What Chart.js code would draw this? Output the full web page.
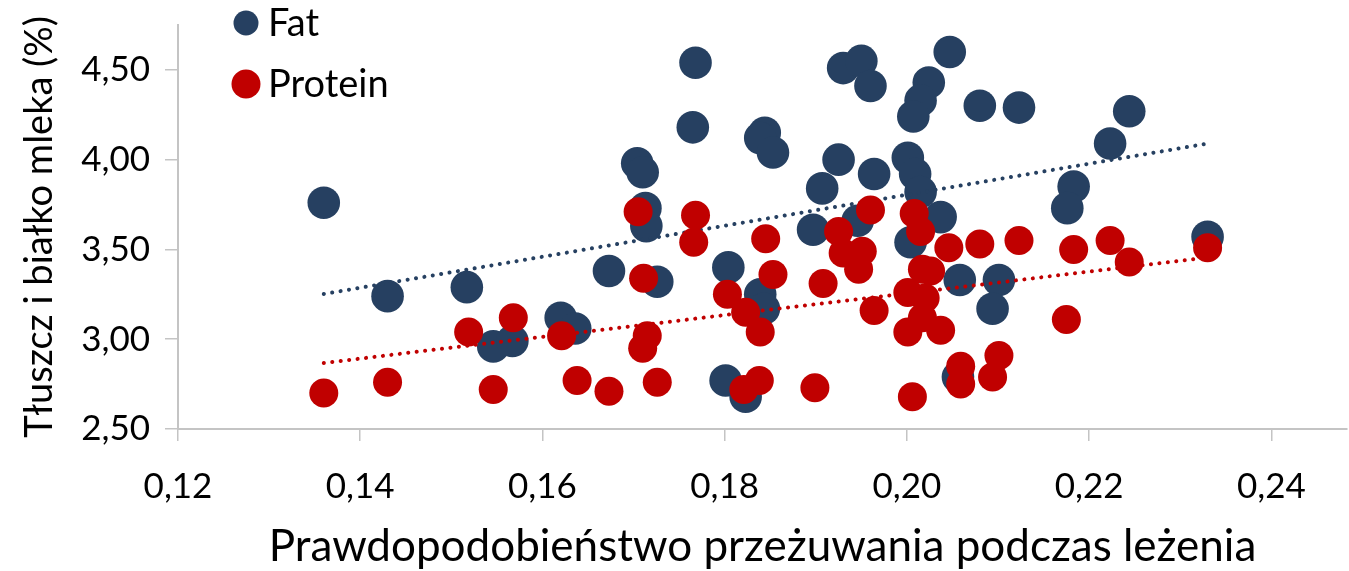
<!DOCTYPE html>
<html>
<head>
<meta charset="utf-8">
<script src="https://cdn.jsdelivr.net/npm/chart.js@4"></script>
<style>
  body { margin: 0; background: #fff; }
  #wrap { width: 1349px; height: 571px; }
</style>
</head>
<body>
<div id="wrap"><canvas id="chart" width="1349" height="571"></canvas></div>
<script>
/* ==========================
   DATA
========================== */
const fatX = [0.1360,0.1430,0.1517,0.1546,0.1567,0.1620,0.1636,0.1673,0.1704,0.1710,0.1713,0.1714,0.1726,0.1765,0.1768,0.1804,0.1801,0.1823,0.1839,0.1843,0.1844,0.1839,0.1853,0.1907,0.1925,0.1930,0.1950,0.1960,0.1897,0.1946,0.1964,0.2001,0.2009,0.2015,0.2024,0.2015,0.2007,0.2047,0.2080,0.2123,0.2244,0.2223,0.2183,0.2176,0.2330,0.2037,0.2004,0.2058,0.2101,0.2094,0.2056];
const fatY = [3.76,3.24,3.29,2.96,2.99,3.12,3.06,3.38,3.98,3.93,3.73,3.63,3.32,4.18,4.54,3.40,2.77,2.68,3.25,3.17,4.15,4.12,4.04,3.84,4.00,4.51,4.55,4.41,3.61,3.66,3.92,4.01,3.92,3.82,4.43,4.33,4.24,4.60,4.30,4.29,4.27,4.09,3.85,3.73,3.57,3.68,3.54,3.33,3.33,3.17,2.79];

const proteinX = [0.1360,0.1430,0.1519,0.1546,0.1568,0.1621,0.1638,0.1673,0.1705,0.1711,0.1715,0.1710,0.1726,0.1768,0.1766,0.1803,0.1823,0.1839,0.1821,0.1838,0.1845,0.1853,0.1899,0.1908,0.1925,0.1960,0.1930,0.1951,0.1947,0.1964,0.2008,0.2015,0.2046,0.2017,0.2026,0.2001,0.2020,0.2017,0.2001,0.2037,0.2006,0.2059,0.2059,0.2080,0.2123,0.2183,0.2223,0.2244,0.2330,0.2175,0.2101,0.2094];
const proteinY = [2.70,2.76,3.04,2.72,3.12,3.02,2.77,2.71,3.71,3.34,3.02,2.95,2.76,3.69,3.54,3.25,3.15,3.04,2.72,2.77,3.56,3.36,2.73,3.31,3.60,3.72,3.48,3.49,3.39,3.16,3.70,3.60,3.51,3.39,3.38,3.26,3.23,3.12,3.04,3.05,2.68,2.85,2.75,3.53,3.55,3.50,3.55,3.43,3.51,3.11,2.91,2.79];

// trend lines (start, end)
const fatTrendX = [0.136, 0.2328];
const fatTrendY = [3.252, 4.088];
const proteinTrendX = [0.136, 0.233];
const proteinTrendY = [2.868, 3.455];

const xTicks = [0.12, 0.14, 0.16, 0.18, 0.20, 0.22, 0.24];
const yTicks = [2.50, 3.00, 3.50, 4.00, 4.50];

const seriesNames = ["Fat", "Protein"];
const xTitle = "Prawdopodobieństwo przeżuwania podczas leżenia";
const yTitle = "Tłuszcz i białko mleka (%)";

/* ==========================
   HELPERS
========================== */
const BLUE = "#264061";
const RED = "#C00000";
const AXIS = "#c4c4c4";
const FONT = "Lato, 'Open Sans', sans-serif";

const toPoints = (xs, ys) => xs.map((x, i) => ({ x: x, y: ys[i] }));
const comma = v => Number(v).toFixed(2).replace(".", ",");
// no extra room for the edge labels, the plot area is fixed
const noPad = s => { s.paddingLeft = 0; s.paddingRight = 0; s.paddingTop = 0; s.paddingBottom = 0; };

// legend drawn inside the plot, top-left
const legendPlugin = {
    id: "insideLegend",
    afterDraw(chart) {
        const ctx = chart.ctx;
        const rows = [
            { label: seriesNames[0], color: BLUE, r: 12.5, x: 246, y: 23 },
            { label: seriesNames[1], color: RED, r: 14.5, x: 246, y: 84 }
        ];
        ctx.save();
        ctx.font = "38px " + FONT;
        ctx.textBaseline = "middle";
        rows.forEach(row => {
            ctx.beginPath();
            ctx.arc(row.x, row.y, row.r, 0, Math.PI * 2);
            ctx.fillStyle = row.color;
            ctx.fill();
            ctx.fillStyle = "#000";
            ctx.fillText(row.label, 268, row.y + 1);
        });
        ctx.restore();
    }
};

/* ==========================
   CHART
========================== */
const ctx = document.getElementById("chart").getContext("2d");
new Chart(ctx, {
    type: "scatter",
    data: {
        datasets: [
            {
                label: seriesNames[1],
                data: toPoints(proteinX, proteinY),
                backgroundColor: RED,
                borderWidth: 0,
                pointRadius: 14.5,
                order: 0
            },
            {
                label: seriesNames[0] + " trend",
                type: "line",
                data: toPoints(fatTrendX, fatTrendY),
                borderColor: BLUE,
                borderWidth: 4,
                borderDash: [0.1, 8.4],
                borderCapStyle: "round",
                pointRadius: 0,
                fill: false,
                order: 1
            },
            {
                label: seriesNames[1] + " trend",
                type: "line",
                data: toPoints(proteinTrendX, proteinTrendY),
                borderColor: RED,
                borderWidth: 4,
                borderDash: [0.1, 8.4],
                borderCapStyle: "round",
                pointRadius: 0,
                fill: false,
                order: 1
            },
            {
                label: seriesNames[0],
                data: toPoints(fatX, fatY),
                backgroundColor: BLUE,
                borderWidth: 0,
                pointRadius: 16.3,
                order: 2
            }
        ]
    },
    options: {
        responsive: false,
        animation: false,
        layout: { autoPadding: false, padding: { top: 25, right: 2, left: 0, bottom: 0 } },
        plugins: {
            legend: { display: false },
            tooltip: { enabled: false }
        },
        scales: {
            x: {
                type: "linear",
                min: 0.12,
                max: 0.2483,
                afterBuildTicks: s => { s.ticks = xTicks.map(v => ({ value: v })); },
                afterFit: s => { s.height = 142; noPad(s); },
                border: { color: AXIS, width: 2 },
                grid: { drawOnChartArea: false, color: AXIS, lineWidth: 1.5, tickLength: 12 },
                ticks: {
                    color: "#000",
                    padding: 25,
                    maxRotation: 0,
                    font: { family: FONT, size: 35 },
                    callback: v => comma(v)
                },
                title: {
                    display: true,
                    text: xTitle,
                    color: "#000",
                    font: { family: FONT, size: 44, lineHeight: 1.1 },
                    padding: { top: 0, bottom: 0 }
                }
            },
            y: {
                min: 2.5,
                max: 4.75,
                afterBuildTicks: s => { s.ticks = yTicks.map(v => ({ value: v })); },
                afterFit: s => { s.width = 178; noPad(s); },
                border: { color: AXIS, width: 2 },
                grid: { drawOnChartArea: false, color: AXIS, lineWidth: 1.5, tickLength: 13 },
                ticks: {
                    color: "#000",
                    padding: 15,
                    font: { family: FONT, size: 35 },
                    callback: v => comma(v)
                },
                title: {
                    display: true,
                    text: yTitle,
                    color: "#000",
                    font: { family: FONT, size: 38, lineHeight: 1.2 },
                    padding: { top: 17, bottom: 0 }
                }
            }
        }
    },
    plugins: [legendPlugin]
});
</script>
</body>
</html>
